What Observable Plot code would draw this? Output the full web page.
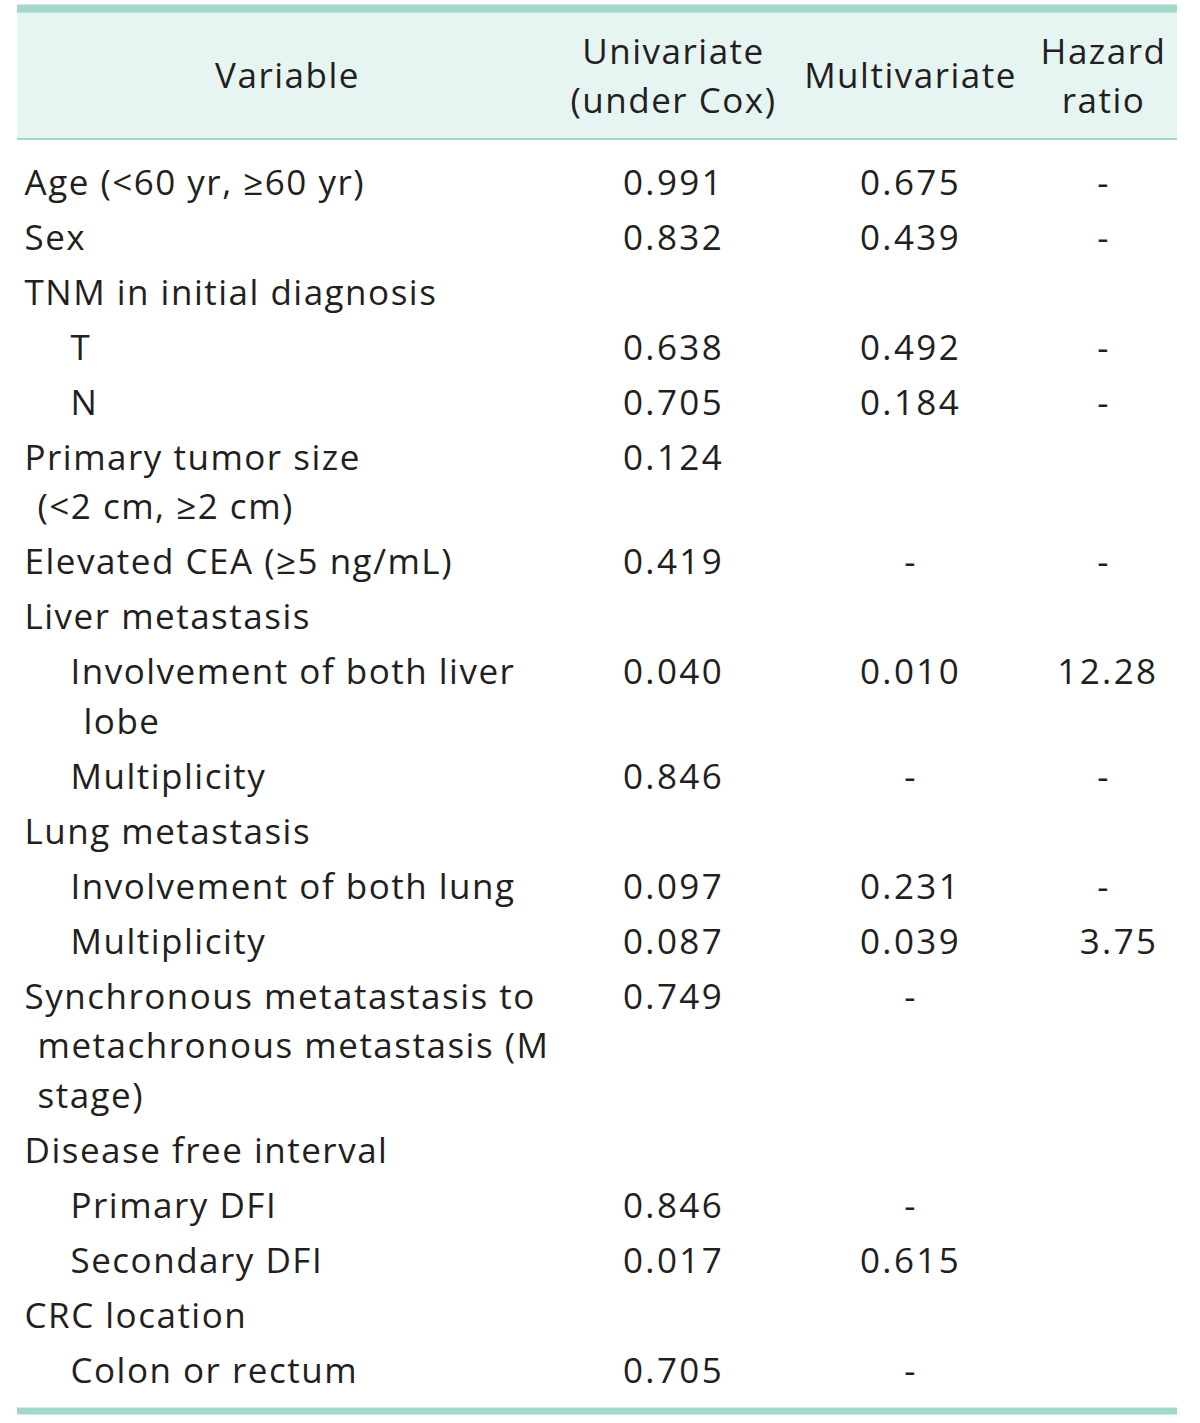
<!DOCTYPE html>
<html><head><meta charset="utf-8">
<script src="https://cdn.jsdelivr.net/npm/d3@7"></script>
<script src="https://cdn.jsdelivr.net/npm/@observablehq/plot@0.6"></script>
<style>
html,body{margin:0;padding:0;background:#fff}
</style>
</head><body><div id="chart"></div>
<script>
// ---- data ----
const columns = ["Variable", "Univariate\n(under Cox)", "Multivariate", "Hazard\nratio"];
const variables = [
  "Age (<60 yr, ≥60 yr)",
  "Sex",
  "TNM in initial diagnosis",
  "T",
  "N",
  "Primary tumor size\n(<2 cm, ≥2 cm)",
  "Elevated CEA (≥5 ng/mL)",
  "Liver metastasis",
  "Involvement of both liver\nlobe",
  "Multiplicity",
  "Lung metastasis",
  "Involvement of both lung",
  "Multiplicity",
  "Synchronous metatastasis to\nmetachronous metastasis (M\nstage)",
  "Disease free interval",
  "Primary DFI",
  "Secondary DFI",
  "CRC location",
  "Colon or rectum"
];
const levels = [0,0,0,1,1,0,0,0,1,1,0,1,1,0,0,1,1,0,1];
const univariate = ["0.991","0.832","","0.638","0.705","0.124","0.419","","0.040","0.846","","0.097","0.087","0.749","","0.846","0.017","","0.705"];
const multivariate = ["0.675","0.439","","0.492","0.184","","-","","0.010","-","","0.231","0.039","-","","-","0.615","","-"];
const hazardRatio = ["-","-","","-","-","","-","","12.28","-","","-","3.75","","","","","",""];

// ---- layout ----
const W = 1200, H = 1423;
const FONT = "'Open Sans', Lato, 'DejaVu Sans', sans-serif";
const FS = 35;
const INK = "#231f20";
const RULE = "#a2d8cb";
const HEADBG = "#e6f4f2";
const ROW = 55;        // px per row unit
const FIRST = 183;     // px centre of first body row
const CONT = 0.9;      // wrapped-line step in row units
const TABLE_L = 17, TABLE_R = 1177;
const VAR_LEFT = 24, INDENT = 46, CONT_INDENT = 13;
const HEAD_X = [287, 673, 910, 1103];
const HR_RIGHT = 1158;
const toU = px => (px - FIRST) / ROW;

// build line records
const bodyLines = [];
const rows = [];
let u = 0;
variables.forEach((label, i) => {
  const parts = label.split("\n");
  parts.forEach((t, k) => bodyLines.push({text: t, u: u + k * CONT, level: levels[i], cont: k > 0}));
  rows.push({u, uni: univariate[i], multi: multivariate[i], hr: hazardRatio[i]});
  u += 1 + CONT * (parts.length - 1);
});
const header = columns.map((c, i) => ({text: c, x: HEAD_X[i], u: toU(72)}));

const textOpts = {fontFamily: FONT, fontSize: FS, fill: INK};

const chart = Plot.plot({
  width: W, height: H,
  margin: 0,
  style: {background: "white", letterSpacing: "1.5px"},
  x: {type: "linear", domain: [0, W], range: [0, W], axis: null},
  y: {type: "linear", domain: [toU(0), toU(H)], range: [0, H], axis: null},
  marks: [
    Plot.rect([{}], {x1: () => TABLE_L, x2: () => TABLE_R, y1: () => toU(12), y2: () => toU(139), fill: HEADBG}),
    Plot.ruleY([toU(8)], {x1: () => TABLE_L, x2: () => TABLE_R, stroke: RULE, strokeWidth: 8}),
    Plot.ruleY([toU(138.5)], {x1: () => TABLE_L, x2: () => TABLE_R, stroke: RULE, strokeWidth: 2}),
    Plot.ruleY([toU(1410.5)], {x1: () => TABLE_L, x2: () => TABLE_R, stroke: RULE, strokeWidth: 7}),
    Plot.text(header, {x: "x", y: "u", text: "text", textAnchor: "middle", lineHeight: 1.42, ...textOpts}),
    Plot.text(bodyLines, {x: d => VAR_LEFT + d.level * INDENT + (d.cont ? CONT_INDENT : 0), y: "u", text: "text", textAnchor: "start", ...textOpts}),
    Plot.text(rows.filter(d => d.uni), {x: () => HEAD_X[1], y: "u", text: "uni", textAnchor: "middle", ...textOpts}),
    Plot.text(rows.filter(d => d.multi), {x: () => HEAD_X[2], y: "u", text: "multi", textAnchor: "middle", ...textOpts}),
    Plot.text(rows.filter(d => d.hr === "-"), {x: () => HEAD_X[3], y: "u", text: "hr", textAnchor: "middle", ...textOpts}),
    Plot.text(rows.filter(d => d.hr && d.hr !== "-"), {x: () => HR_RIGHT, y: "u", text: "hr", textAnchor: "end", ...textOpts})
  ]
});
// wider tracking for the numeric cells (reference digits are set wide)
d3.select(chart).selectAll("text")
  .filter(function() { return /^[0-9.]+$/.test(this.textContent); })
  .style("letter-spacing", "2.4px");
document.getElementById("chart").appendChild(chart);
</script>
</body></html>
